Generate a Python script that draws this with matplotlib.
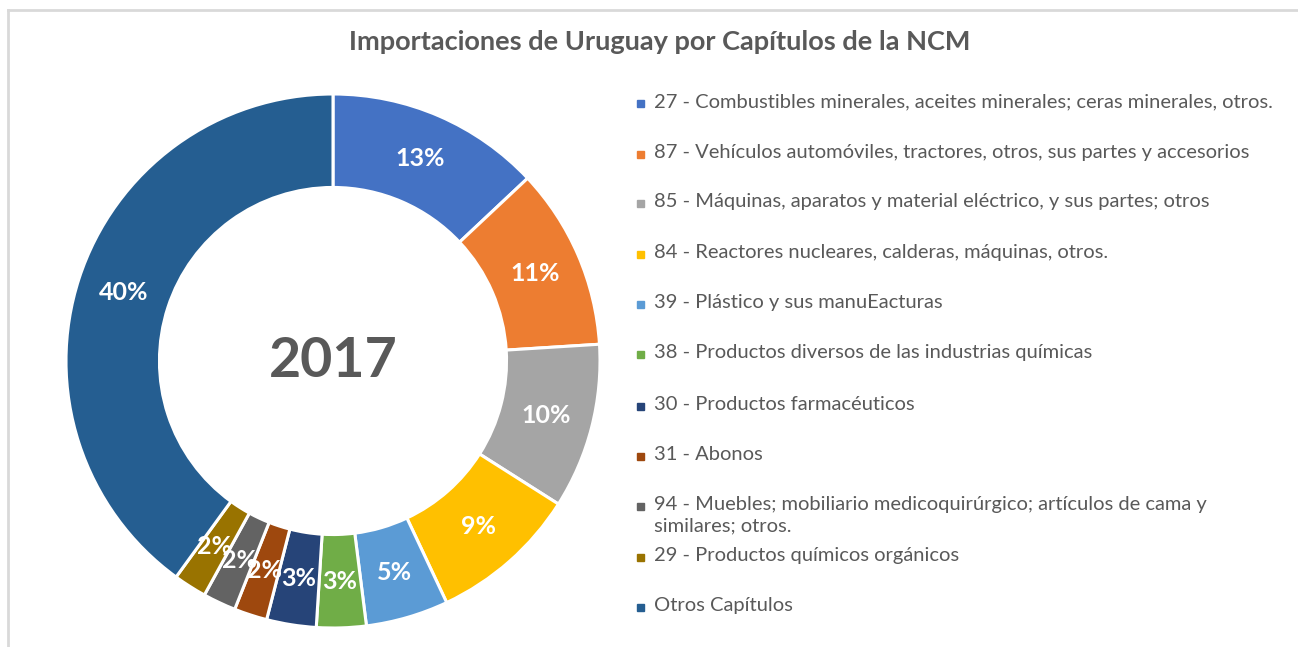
import matplotlib
matplotlib.use("Agg")
import matplotlib.pyplot as plt
import numpy as np

plt.rcParams['font.family'] = ['Lato', 'DejaVu Sans']

# Import shares by NCM chapter, 2017 (percent)
chapters = [
    "27 - Combustibles minerales, aceites minerales; ceras minerales, otros.",
    "87 - Vehículos automóviles, tractores, otros, sus partes y accesorios",
    "85 - Máquinas, aparatos y material eléctrico, y sus partes; otros",
    "84 - Reactores nucleares, calderas, máquinas, otros.",
    "39 - Plástico y sus manuEacturas",
    "38 - Productos diversos de las industrias químicas",
    "30 - Productos farmacéuticos",
    "31 - Abonos",
    "94 - Muebles; mobiliario medicoquirúrgico; artículos de cama y\nsimilares; otros.",
    "29 - Productos químicos orgánicos",
    "Otros Capítulos",
]
shares = [13, 11, 10, 9, 5, 3, 3, 2, 2, 2, 40]
colors = ["#4472C4", "#ED7D31", "#A5A5A5", "#FFC000", "#5B9BD5", "#70AD47",
          "#264478", "#9E480E", "#636363", "#997300", "#255E91"]

W, H = 1298, 647
fig = plt.figure(figsize=(W / 100, H / 100), dpi=100)
fig.patch.set_facecolor("white")

# light frame on top and left edges
fig.add_artist(plt.Line2D([7.5 / W, 7.5 / W], [0, 1 - 9.5 / H], transform=fig.transFigure,
                          color="#D9D9D9", lw=2))
fig.add_artist(plt.Line2D([7.5 / W, 1 - 1 / W], [1 - 9.5 / H, 1 - 9.5 / H], transform=fig.transFigure,
                          color="#D9D9D9", lw=2))

# donut axes
cx, cy, r = 333, 361, 267
ax = fig.add_axes([(cx - r) / W, (H - cy - r) / H, 2 * r / W, 2 * r / H])
ring = 0.35
wedges, _ = ax.pie(shares, colors=colors, startangle=90, counterclock=False,
                   radius=1.0, wedgeprops=dict(width=ring, edgecolor="white", linewidth=2.2))
ax.set_xlim(-1, 1)
ax.set_ylim(-1, 1)
ax.set_aspect("equal")
ax.axis("off")

# percentage labels in the middle of the ring
total = sum(shares)
start = 90.0
rmid = 1 - ring / 2
for v in shares:
    ang = np.deg2rad(start - 360.0 * v / total / 2)
    start -= 360.0 * v / total
    ax.text(rmid * np.cos(ang), rmid * np.sin(ang), f"{v}%", ha="center", va="center",
            color="white", fontsize=18, fontweight="bold")

ax.text(0, 0, "2017", ha="center", va="center", fontsize=40, fontweight="bold", color="#595959")

fig.text(660 / W, 1 - 42 / H, "Importaciones de Uruguay por Capítulos de la NCM",
         ha="center", va="center", fontsize=19.5, fontweight="bold", color="#595959")

# legend
rows_y = [103, 154, 203, 254, 304, 354, 406, 456, 506, 557, 607]
for label, col, y in zip(chapters, colors, rows_y):
    fig.add_artist(plt.Rectangle((637 / W, 1 - (y + 4) / H), 7 / W, 7 / H,
                                 transform=fig.transFigure, color=col))
    fig.text(654 / W, 1 - (y - 10) / H, label, ha="left", va="top", fontsize=14.5,
             color="#595959", linespacing=1.3)

fig.savefig("out.png", dpi=100)
